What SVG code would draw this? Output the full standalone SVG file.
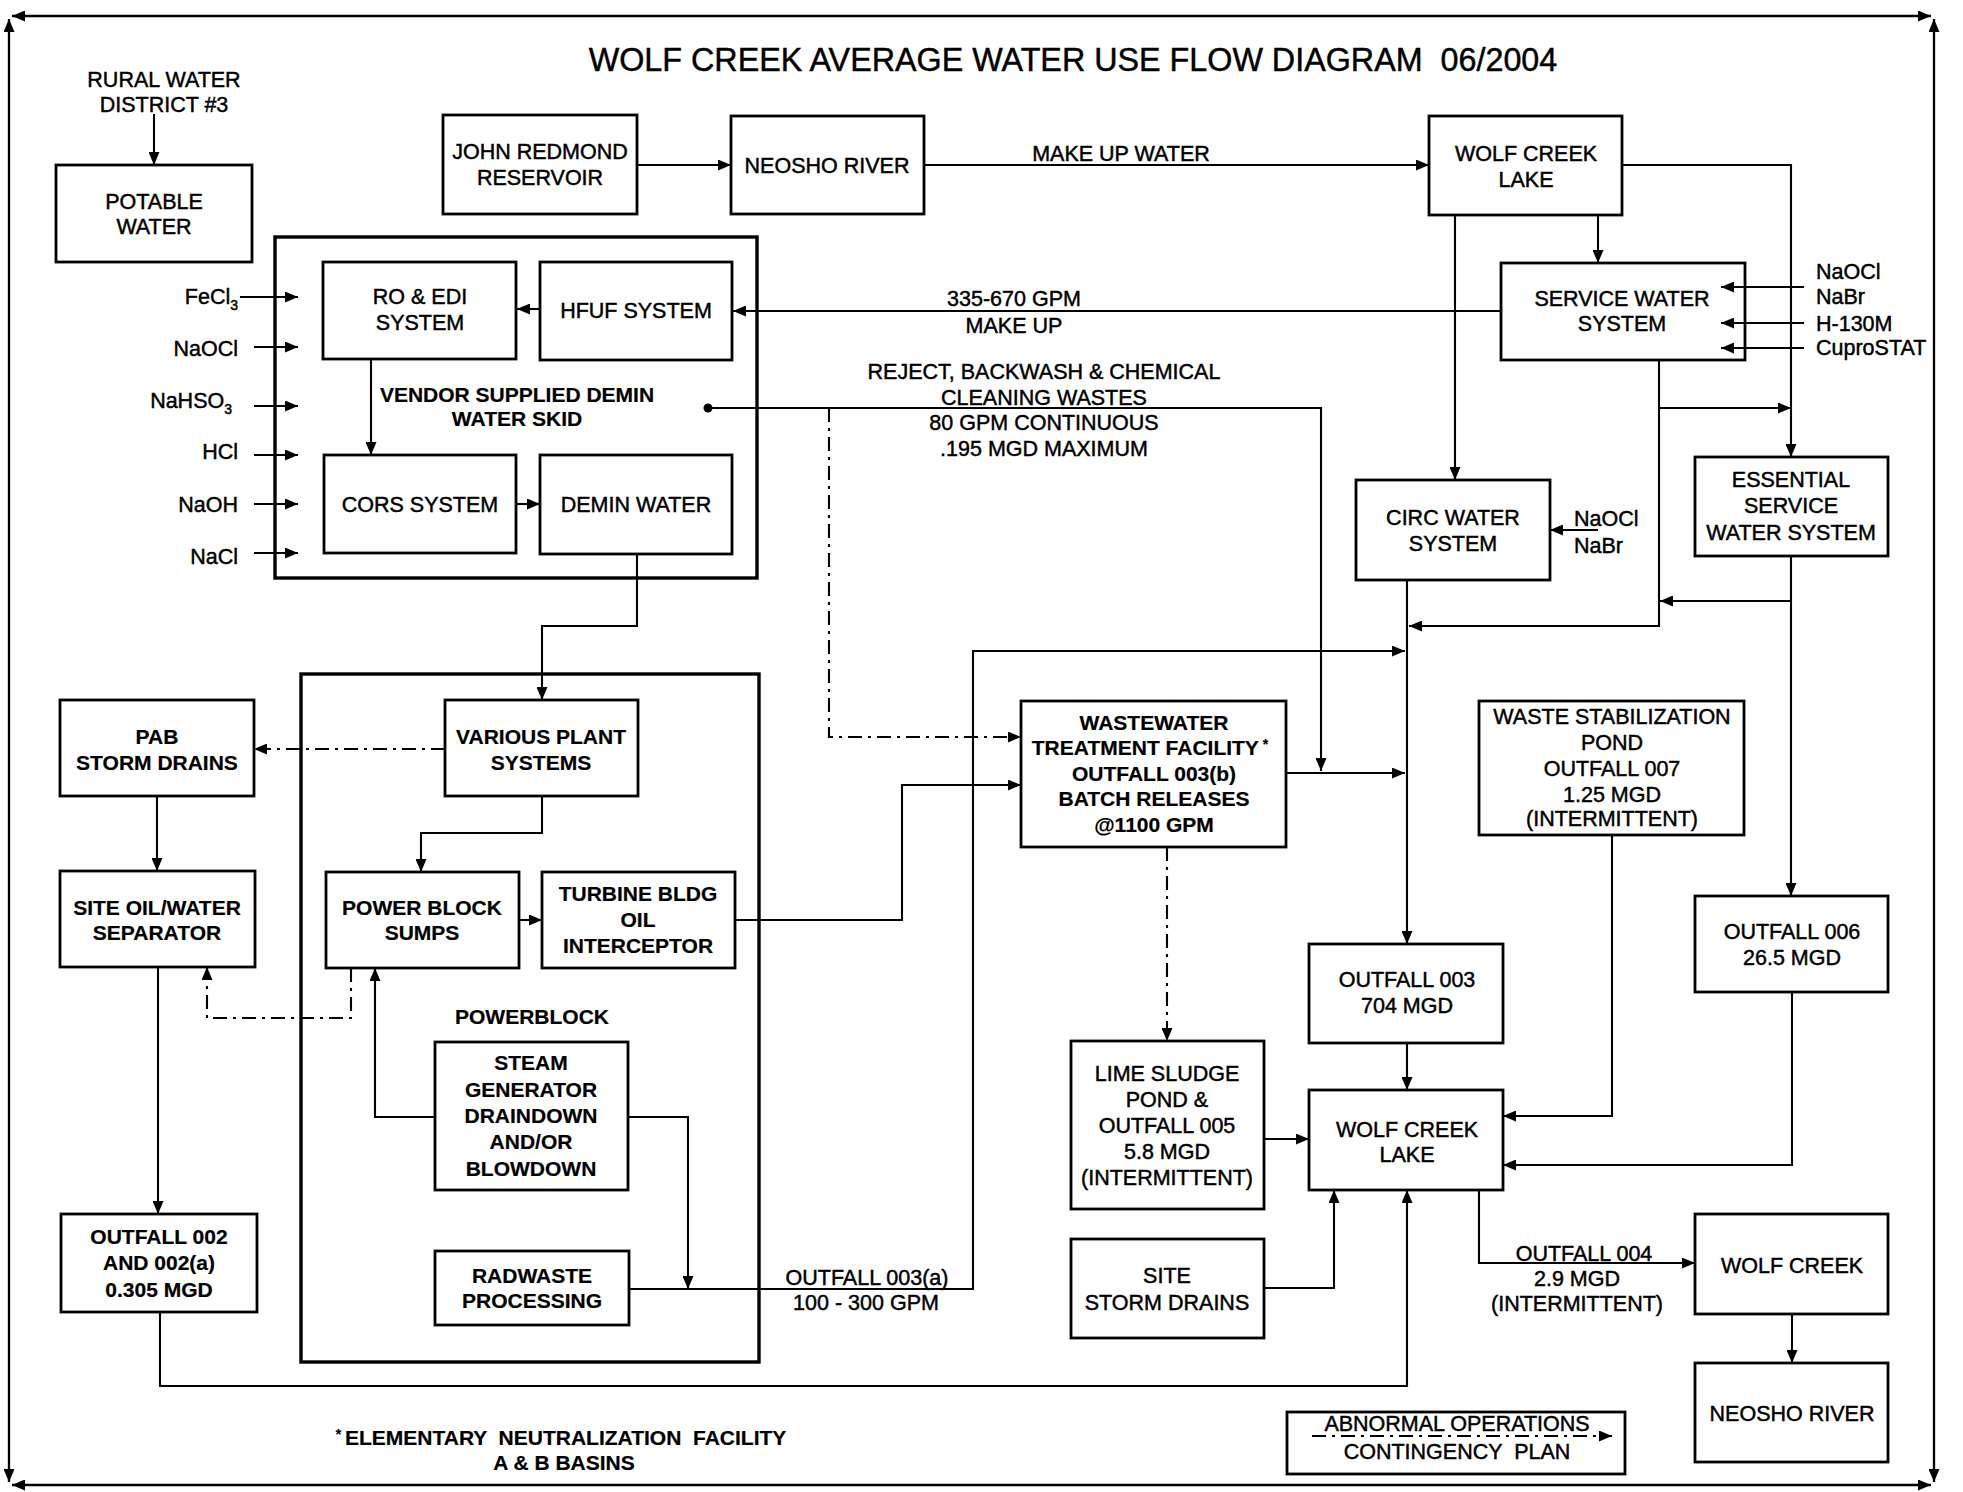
<svg xmlns="http://www.w3.org/2000/svg" width="1963" height="1492" viewBox="0 0 1963 1492">
<style>
text{font-family:"Liberation Sans",Arial,sans-serif;font-size:21.5px;fill:#000;text-anchor:middle;stroke:#000;stroke-width:0.45}
.b{font-weight:bold;font-size:21px;stroke-width:0.2}
.l{text-anchor:start}
.r{text-anchor:end}
.box{fill:none;stroke:#000;stroke-width:2.8}
.grp{fill:none;stroke:#000;stroke-width:3.4}
.ln{fill:none;stroke:#000;stroke-width:2.1;marker-end:url(#ah)}
.dd{stroke-dasharray:14 6 3 6}
.bd{fill:none;stroke:#000;stroke-width:2.3;marker-start:url(#ah);marker-end:url(#ah)}
</style>
<defs>
<marker id="ah" viewBox="0 0 13 11" refX="13" refY="5.5" markerWidth="13" markerHeight="11" markerUnits="userSpaceOnUse" orient="auto-start-reverse"><path d="M0,0 L13,5.5 L0,11 z" fill="#000"/></marker>
</defs>
<rect width="1963" height="1492" fill="#fff"/>

<g id="border">
<path class="bd" d="M12,16 H1931"/>
<path class="bd" d="M9,19 V1482"/>
<path class="bd" d="M12,1485 H1931"/>
<path class="bd" d="M1934,19 V1482"/>
</g>

<text id="title" x="1073" y="71" style="font-size:32.3px" xml:space="preserve">WOLF CREEK AVERAGE WATER USE FLOW DIAGRAM  06/2004</text>

<g id="connectors">
<path class="ln" d="M154,114 V165"/>
<path class="ln" d="M637,165 H731"/>
<path class="ln" d="M924,165 H1429"/>
<path class="ln" d="M1622,165 H1791 V457"/>
<path class="ln" d="M1598,215 V263"/>
<path class="ln" d="M1455,215 V480"/>
<path class="ln" d="M1501,311 H733"/>
<path class="ln" d="M540,309 H517"/>
<path class="ln" d="M371,359 V455"/>
<path class="ln" d="M516,504 H540"/>
<path class="ln" d="M240,297 H298"/>
<path class="ln" d="M254,347 H298"/>
<path class="ln" d="M254,406 H298"/>
<path class="ln" d="M254,455 H298"/>
<path class="ln" d="M254,504 H298"/>
<path class="ln" d="M254,553 H298"/>
<path class="ln" d="M1804,287 H1721"/>
<path class="ln" d="M1804,323 H1721"/>
<path class="ln" d="M1804,348 H1721"/>
<circle cx="708" cy="408" r="4.5" fill="#000"/>
<path class="ln" d="M708,408 H1321 V771"/>
<path class="ln dd" d="M829,408 V737 H1021"/>
<path class="ln" d="M1659,360 V626 H1409"/>
<path class="ln" d="M1659,408 H1791"/>
<path class="ln" d="M1791,556 V896"/>
<path class="ln" d="M1791,601 H1660"/>
<path class="ln" d="M1598,530 H1550"/>
<path class="ln" d="M1407,580 V944"/>
<path class="ln" d="M629,1289 H973 V651 H1405"/>
<path class="ln" d="M735,920 H902 V785 H1021"/>
<path class="ln" d="M1286,773 H1405"/>
<path class="ln" d="M1612,835 V1116 H1503"/>
<path class="ln" d="M1407,1043 V1090"/>
<path class="ln" d="M1792,992 V1165 H1503"/>
<path class="ln dd" d="M1167,847 V1041"/>
<path class="ln" d="M1264,1139 H1309"/>
<path class="ln" d="M1264,1288 H1334 V1190"/>
<path class="ln" d="M160,1312 V1386 H1407 V1190"/>
<path class="ln" d="M1479,1190 V1263 H1695"/>
<path class="ln" d="M1792,1314 V1363"/>
<path class="ln dd" d="M1312,1436 H1612"/>
<path class="ln" d="M637,554 V626 H542 V700"/>
<path class="ln dd" d="M445,749 H254"/>
<path class="ln" d="M157,796 V871"/>
<path class="ln" d="M158,967 V1214"/>
<path class="ln" d="M542,796 V833 H421 V872"/>
<path class="ln" d="M519,920 H542"/>
<path class="ln dd" d="M351,968 V1018 H207 V967"/>
<path class="ln" d="M435,1117 H375 V968"/>
<path class="ln" d="M628,1117 H688 V1289"/>
</g>

<g id="connector-labels">
<text x="1121" y="161">MAKE UP WATER</text>
<text x="1014" y="306">335-670 GPM</text>
<text x="1014" y="333">MAKE UP</text>
<text x="1044" y="379">REJECT, BACKWASH &amp; CHEMICAL</text>
<text x="1044" y="405">CLEANING WASTES</text>
<text x="1044" y="430">80 GPM CONTINUOUS</text>
<text x="1044" y="456">.195 MGD MAXIMUM</text>
<text x="867" y="1285">OUTFALL 003(a)</text>
<text x="866" y="1310">100 - 300 GPM</text>
<text x="1584" y="1261">OUTFALL 004</text>
<text x="1577" y="1286">2.9 MGD</text>
<text x="1577" y="1311">(INTERMITTENT)</text>
</g>

<g id="chemicals-demin">
<text class="r" x="238" y="304">FeCl<tspan font-size="14" dy="6">3</tspan></text>
<text class="r" x="238" y="356">NaOCl</text>
<text class="r" x="232" y="408">NaHSO<tspan font-size="14" dy="6">3</tspan></text>
<text class="r" x="238" y="459">HCl</text>
<text class="r" x="238" y="512">NaOH</text>
<text class="r" x="238" y="564">NaCl</text>
</g>
<g id="chemicals-service">
<text class="l" x="1816" y="279">NaOCl</text>
<text class="l" x="1816" y="304">NaBr</text>
<text class="l" x="1816" y="331">H-130M</text>
<text class="l" x="1816" y="355">CuproSTAT</text>
</g>
<g id="chemicals-circ">
<text class="l" x="1574" y="526">NaOCl</text>
<text class="l" x="1574" y="553">NaBr</text>
</g>

<g id="rural-water">
<text x="164" y="87">RURAL WATER</text>
<text x="164" y="112">DISTRICT #3</text>
</g>
<g id="potable-water">
<rect class="box" x="56" y="165" width="196" height="97"/>
<text x="154" y="209">POTABLE</text>
<text x="154" y="234">WATER</text>
</g>
<g id="john-redmond">
<rect class="box" x="443" y="115" width="194" height="99"/>
<text x="540" y="159">JOHN REDMOND</text>
<text x="540" y="185">RESERVOIR</text>
</g>
<g id="neosho-river-1">
<rect class="box" x="731" y="116" width="193" height="98"/>
<text x="827" y="173">NEOSHO RIVER</text>
</g>
<g id="wolf-creek-lake-1">
<rect class="box" x="1429" y="116" width="193" height="99"/>
<text x="1526" y="161">WOLF CREEK</text>
<text x="1526" y="187">LAKE</text>
</g>
<g id="service-water">
<rect class="box" x="1501" y="263" width="244" height="97"/>
<text x="1622" y="306">SERVICE WATER</text>
<text x="1622" y="331">SYSTEM</text>
</g>
<g id="demin-skid">
<rect class="grp" x="275" y="237" width="482" height="341"/>
<text class="b" x="517" y="402">VENDOR SUPPLIED DEMIN</text>
<text class="b" x="517" y="426">WATER SKID</text>
</g>
<g id="ro-edi">
<rect class="box" x="323" y="262" width="193" height="97"/>
<text x="420" y="304">RO &amp; EDI</text>
<text x="420" y="330">SYSTEM</text>
</g>
<g id="hfuf">
<rect class="box" x="540" y="262" width="192" height="98"/>
<text x="636" y="318">HFUF SYSTEM</text>
</g>
<g id="cors">
<rect class="box" x="324" y="455" width="192" height="98"/>
<text x="420" y="512">CORS SYSTEM</text>
</g>
<g id="demin-water">
<rect class="box" x="540" y="455" width="192" height="99"/>
<text x="636" y="512">DEMIN WATER</text>
</g>
<g id="circ-water">
<rect class="box" x="1356" y="480" width="194" height="100"/>
<text x="1453" y="525">CIRC WATER</text>
<text x="1453" y="551">SYSTEM</text>
</g>
<g id="essential-service">
<rect class="box" x="1695" y="457" width="193" height="99"/>
<text x="1791" y="487">ESSENTIAL</text>
<text x="1791" y="513">SERVICE</text>
<text x="1791" y="540">WATER SYSTEM</text>
</g>
<g id="powerblock">
<rect class="grp" x="301" y="674" width="458" height="688"/>
<text class="b" x="532" y="1024">POWERBLOCK</text>
</g>
<g id="pab-storm-drains">
<rect class="box" x="60" y="700" width="194" height="96"/>
<text class="b" x="157" y="744">PAB</text>
<text class="b" x="157" y="770">STORM DRAINS</text>
</g>
<g id="various-plant">
<rect class="box" x="445" y="700" width="193" height="96"/>
<text class="b" x="541" y="744">VARIOUS PLANT</text>
<text class="b" x="541" y="770">SYSTEMS</text>
</g>
<g id="site-oil-water">
<rect class="box" x="60" y="871" width="195" height="96"/>
<text class="b" x="157" y="915">SITE OIL/WATER</text>
<text class="b" x="157" y="940">SEPARATOR</text>
</g>
<g id="power-block-sumps">
<rect class="box" x="326" y="872" width="193" height="96"/>
<text class="b" x="422" y="915">POWER BLOCK</text>
<text class="b" x="422" y="940">SUMPS</text>
</g>
<g id="turbine-bldg">
<rect class="box" x="542" y="872" width="193" height="96"/>
<text class="b" x="638" y="901">TURBINE BLDG</text>
<text class="b" x="638" y="927">OIL</text>
<text class="b" x="638" y="953">INTERCEPTOR</text>
</g>
<g id="steam-generator">
<rect class="box" x="435" y="1042" width="193" height="148"/>
<text class="b" x="531" y="1070">STEAM</text>
<text class="b" x="531" y="1097">GENERATOR</text>
<text class="b" x="531" y="1123">DRAINDOWN</text>
<text class="b" x="531" y="1149">AND/OR</text>
<text class="b" x="531" y="1176">BLOWDOWN</text>
</g>
<g id="radwaste">
<rect class="box" x="435" y="1251" width="194" height="74"/>
<text class="b" x="532" y="1283">RADWASTE</text>
<text class="b" x="532" y="1308">PROCESSING</text>
</g>
<g id="outfall-002">
<rect class="box" x="61" y="1214" width="196" height="98"/>
<text class="b" x="159" y="1244">OUTFALL 002</text>
<text class="b" x="159" y="1270">AND 002(a)</text>
<text class="b" x="159" y="1297">0.305 MGD</text>
</g>
<g id="wwtf">
<rect class="box" x="1021" y="701" width="265" height="146"/>
<text class="b" x="1154" y="730">WASTEWATER</text>
<text class="b" x="1150" y="755">TREATMENT FACILITY<tspan font-size="14" dy="-6"> *</tspan></text>
<text class="b" x="1154" y="781">OUTFALL 003(b)</text>
<text class="b" x="1154" y="806">BATCH RELEASES</text>
<text class="b" x="1154" y="832">@1100 GPM</text>
</g>
<g id="waste-stabilization">
<rect class="box" x="1479" y="701" width="265" height="134"/>
<text x="1612" y="724">WASTE STABILIZATION</text>
<text x="1612" y="750">POND</text>
<text x="1612" y="776">OUTFALL 007</text>
<text x="1612" y="802">1.25 MGD</text>
<text x="1612" y="826">(INTERMITTENT)</text>
</g>
<g id="outfall-003">
<rect class="box" x="1309" y="944" width="194" height="99"/>
<text x="1407" y="987">OUTFALL 003</text>
<text x="1407" y="1013">704 MGD</text>
</g>
<g id="outfall-006">
<rect class="box" x="1695" y="896" width="193" height="96"/>
<text x="1792" y="939">OUTFALL 006</text>
<text x="1792" y="965">26.5 MGD</text>
</g>
<g id="lime-sludge">
<rect class="box" x="1071" y="1041" width="193" height="168"/>
<text x="1167" y="1081">LIME SLUDGE</text>
<text x="1167" y="1107">POND &amp;</text>
<text x="1167" y="1133">OUTFALL 005</text>
<text x="1167" y="1159">5.8 MGD</text>
<text x="1167" y="1185">(INTERMITTENT)</text>
</g>
<g id="wolf-creek-lake-2">
<rect class="box" x="1309" y="1090" width="194" height="100"/>
<text x="1407" y="1137">WOLF CREEK</text>
<text x="1407" y="1162">LAKE</text>
</g>
<g id="site-storm-drains">
<rect class="box" x="1071" y="1239" width="193" height="99"/>
<text x="1167" y="1283">SITE</text>
<text x="1167" y="1310">STORM DRAINS</text>
</g>
<g id="wolf-creek">
<rect class="box" x="1695" y="1214" width="193" height="100"/>
<text x="1792" y="1273">WOLF CREEK</text>
</g>
<g id="neosho-river-2">
<rect class="box" x="1695" y="1363" width="193" height="99"/>
<text x="1792" y="1421">NEOSHO RIVER</text>
</g>
<g id="legend">
<rect class="box" x="1287" y="1412" width="338" height="62"/>
<text x="1457" y="1431">ABNORMAL OPERATIONS</text>
<text x="1457" y="1459" xml:space="preserve">CONTINGENCY  PLAN</text>
</g>
<g id="footnote">
<text class="b" x="561" y="1445" xml:space="preserve"><tspan font-size="14" dy="-6">* </tspan><tspan dy="6">ELEMENTARY  NEUTRALIZATION  FACILITY</tspan></text>
<text class="b" x="564" y="1470">A &amp; B BASINS</text>
</g>
</svg>
